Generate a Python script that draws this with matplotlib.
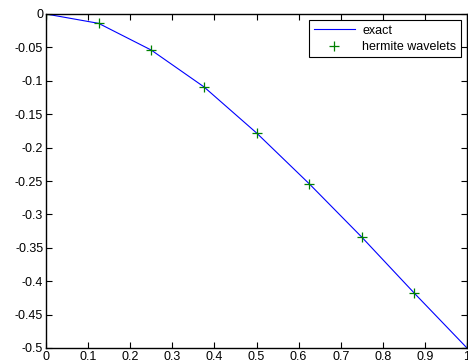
import matplotlib
matplotlib.use('Agg')
import matplotlib.pyplot as plt

plt.rcParams['font.family'] = ['Liberation Sans', 'DejaVu Sans']

x = [0, 0.125, 0.25, 0.375, 0.5, 0.625, 0.75, 0.875, 1.0]
exact = [0, -0.014, -0.054, -0.109, -0.178, -0.254, -0.334, -0.418, -0.5]
hermite = [0, -0.014, -0.054, -0.109, -0.178, -0.254, -0.334, -0.418, -0.5]

xticks = [0, 0.1, 0.2, 0.3, 0.4, 0.5, 0.6, 0.7, 0.8, 0.9, 1]
yticks = [0, -0.05, -0.1, -0.15, -0.2, -0.25, -0.3, -0.35, -0.4, -0.45, -0.5]

fig = plt.figure(figsize=(4.68, 3.61), dpi=100)
ax = fig.add_axes([46/468, 13/361, 421/468, 334/361])

ax.plot(x, exact, color='blue', linewidth=0.8, label='exact')
ax.plot(x, hermite, linestyle='none', marker='+', color='#008000',
        markersize=6.5, markeredgewidth=0.9, label='hermite wavelets')

ax.set_xlim(0, 1)
ax.set_ylim(-0.5, 0)
ax.set_xticks(xticks)
ax.set_xticklabels(['0', '0.1', '0.2', '0.3', '0.4', '0.5', '0.6', '0.7', '0.8', '0.9', '1'])
ax.set_yticks(yticks)
ax.set_yticklabels(['0', '-0.05', '-0.1', '-0.15', '-0.2', '-0.25', '-0.3', '-0.35', '-0.4', '-0.45', '-0.5'])
ax.tick_params(direction='in', top=True, right=True, length=4, width=0.8,
               labelsize=9, pad=2)
for s in ax.spines.values():
    s.set_linewidth(1.0)

leg = ax.legend(loc='upper right', fontsize=9, fancybox=False, framealpha=1,
                edgecolor='black', handlelength=3.3, handletextpad=0.6,
                borderaxespad=0.5, borderpad=0.35, labelspacing=0.35)
leg.get_frame().set_linewidth(0.8)

fig.savefig('out.png', dpi=100)
